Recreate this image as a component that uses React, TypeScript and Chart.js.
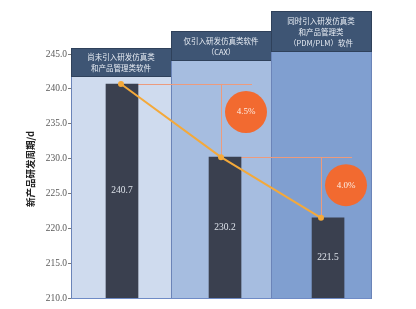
import React, { useEffect, useRef } from 'react';
import { Chart, registerables } from 'chart.js';

Chart.register(...registerables);

// ---- data ----
const categories = [
  '尚未引入研发仿真类和产品管理类软件',
  '仅引入研发仿真类软件（CAX）',
  '同时引入研发仿真类和产品管理类（PDM/PLM）软件',
];
const headerLines = [
  ['尚未引入研发仿真类', '和产品管理类软件'],
  ['仅引入研发仿真类软件', '（CAX）'],
  ['同时引入研发仿真类', '和产品管理类', '（PDM/PLM）软件'],
];
const cycleDays = [240.7, 230.2, 221.5];
const dropLabels = ['4.5%', '4.0%'];
const yMin = 210;
const yMax = 245;
const yStep = 5;
const yTitle = '新产品研发周期/d';

// ---- styles ----
const panelFill = ['#cfdbee', '#a6bde0', '#809fd0'];
const headerFill = '#3e5574';
const headerTop = [48, 31, 11];
const headerBottom = [76, 60, 51];
const barColor = '#3a404f';
const lineColor = '#f4a93a';
const refColor = '#ec9b7d';
const badgeColor = '#f26a30';
const serif = '"Liberation Serif", "DejaVu Serif", serif';
const cjk = '"Noto Sans CJK SC", "Noto Sans", sans-serif';

const decorPlugin = {
  id: 'decor',
  beforeDatasetsDraw(chart: any) {
    const { ctx, chartArea } = chart;
    const xs = chart.scales.x;
    const ys = chart.scales.y;
    const half = (xs.getPixelForValue(1) - xs.getPixelForValue(0)) / 2;
    ctx.save();
    categories.forEach((_, i) => {
      const c = xs.getPixelForValue(i);
      const l = c - half;
      const r = c + half;
      // body
      ctx.fillStyle = panelFill[i];
      ctx.fillRect(l, headerBottom[i], r - l, chartArea.bottom - headerBottom[i]);
      ctx.strokeStyle = '#6b84b8';
      ctx.lineWidth = 1;
      ctx.strokeRect(l + 0.5, headerBottom[i] + 0.5, r - l, chartArea.bottom - headerBottom[i]);
      // header
      ctx.fillStyle = headerFill;
      ctx.fillRect(l, headerTop[i], r - l, headerBottom[i] - headerTop[i]);
      ctx.strokeStyle = '#2f415b';
      ctx.strokeRect(l + 0.5, headerTop[i] + 0.5, r - l, headerBottom[i] - headerTop[i]);
      ctx.fillStyle = '#e8edf4';
      ctx.font = `7.5px ${cjk}`;
      ctx.textAlign = 'center';
      ctx.textBaseline = 'middle';
      const lines = headerLines[i];
      const lh = 11.3;
      const mid = (headerTop[i] + headerBottom[i]) / 2 + 1;
      lines.forEach((t, k) => {
        ctx.fillText(t, c, mid + (k - (lines.length - 1) / 2) * lh);
      });
    });
    // bottom axis line
    ctx.strokeStyle = '#6f8bc6';
    ctx.lineWidth = 1;
    ctx.beginPath();
    ctx.moveTo(chartArea.left, chartArea.bottom + 0.5);
    ctx.lineTo(chartArea.right, chartArea.bottom + 0.5);
    ctx.stroke();
    // reference lines
    ctx.strokeStyle = refColor;
    ctx.lineWidth = 1;
    for (let i = 0; i < cycleDays.length - 1; i++) {
      const x0 = xs.getPixelForValue(i);
      const x1 = xs.getPixelForValue(i + 1);
      const y0 = ys.getPixelForValue(cycleDays[i]);
      const y1 = ys.getPixelForValue(cycleDays[i + 1]);
      ctx.beginPath();
      ctx.moveTo(x0, Math.round(y0) + 0.5);
      ctx.lineTo(x1 + half * 0.62, Math.round(y0) + 0.5);
      ctx.moveTo(Math.round(x1) + 0.5, y0);
      ctx.lineTo(Math.round(x1) + 0.5, y1);
      ctx.stroke();
    }
    // y title
    ctx.save();
    ctx.translate(30, 169);
    ctx.rotate(-Math.PI / 2);
    ctx.fillStyle = '#222';
    ctx.font = `bold 9.5px ${cjk}`;
    ctx.textAlign = 'center';
    ctx.textBaseline = 'middle';
    ctx.fillText(yTitle, 0, 0);
    ctx.restore();
    ctx.restore();
  },
  afterDraw(chart: any) {
    const { ctx } = chart;
    const xs = chart.scales.x;
    const xb = chart.scales.xb;
    const ys = chart.scales.y;
    ctx.save();
    // bar labels
    ctx.fillStyle = '#dde2ea';
    ctx.font = `9.5px ${serif}`;
    ctx.textAlign = 'center';
    ctx.textBaseline = 'middle';
    cycleDays.forEach((v, i) => {
      const bx = xb.getPixelForValue(i + 1);
      const by = (ys.getPixelForValue(v) + ys.getPixelForValue(yMin)) / 2;
      ctx.fillText(v.toFixed(1), bx, by);
    });
    // badges
    for (let i = 0; i < dropLabels.length; i++) {
      const cx = xs.getPixelForValue(i + 1) + 25;
      const cy = ys.getPixelForValue(cycleDays[i]) + 28;
      ctx.fillStyle = badgeColor;
      ctx.beginPath();
      ctx.arc(cx, cy, 21, 0, Math.PI * 2);
      ctx.fill();
      ctx.fillStyle = '#fbeee6';
      ctx.font = `9px ${serif}`;
      ctx.fillText(dropLabels[i], cx, cy);
    }
    ctx.restore();
  },
};

export default function App() {
  const ref = useRef<HTMLCanvasElement>(null);
  useEffect(() => {
    document.body.style.margin = '0';
    const chart = new Chart(ref.current as HTMLCanvasElement, {
      type: 'bar',
      data: {
        labels: categories,
        datasets: [
          {
            type: 'line',
            data: cycleDays,
            xAxisID: 'x',
            yAxisID: 'y',
            borderColor: lineColor,
            backgroundColor: lineColor,
            borderWidth: 2,
            pointRadius: 3,
            pointBackgroundColor: lineColor,
            pointBorderWidth: 0,
            order: 0,
          } as any,
          {
            type: 'bar',
            data: cycleDays.map((v, i) => ({ x: i + 1, y: v })),
            xAxisID: 'xb',
            yAxisID: 'y',
            backgroundColor: barColor,
            barThickness: 32,
            grouped: false,
            order: 1,
          } as any,
        ],
      },
      options: {
        responsive: false,
        animation: false,
        layout: { padding: { left: 0, right: 45, top: 54, bottom: 11 } },
        plugins: { legend: { display: false }, tooltip: { enabled: false } },
        scales: {
          x: { type: 'category', display: false, offset: true },
          xb: { type: 'linear', display: false, offset: false, min: 0.505, max: 3.417 },
          y: {
            min: yMin,
            max: yMax,
            afterFit: (s: any) => {
              s.width = 71;
            },
            ticks: {
              stepSize: yStep,
              padding: 1,
              color: '#595959',
              font: { family: serif, size: 9.5 },
              callback: (v: any) => Number(v).toFixed(1),
            },
            grid: { drawOnChartArea: false, drawTicks: true, tickLength: 3, color: '#7a7a7a' },
            border: { display: true, color: '#8a8a8a', width: 1 },
          },
        },
      },
      plugins: [decorPlugin],
    });
    return () => chart.destroy();
  }, []);
  return <canvas ref={ref} width={416} height={309} style={{ display: 'block' }} />;
}
